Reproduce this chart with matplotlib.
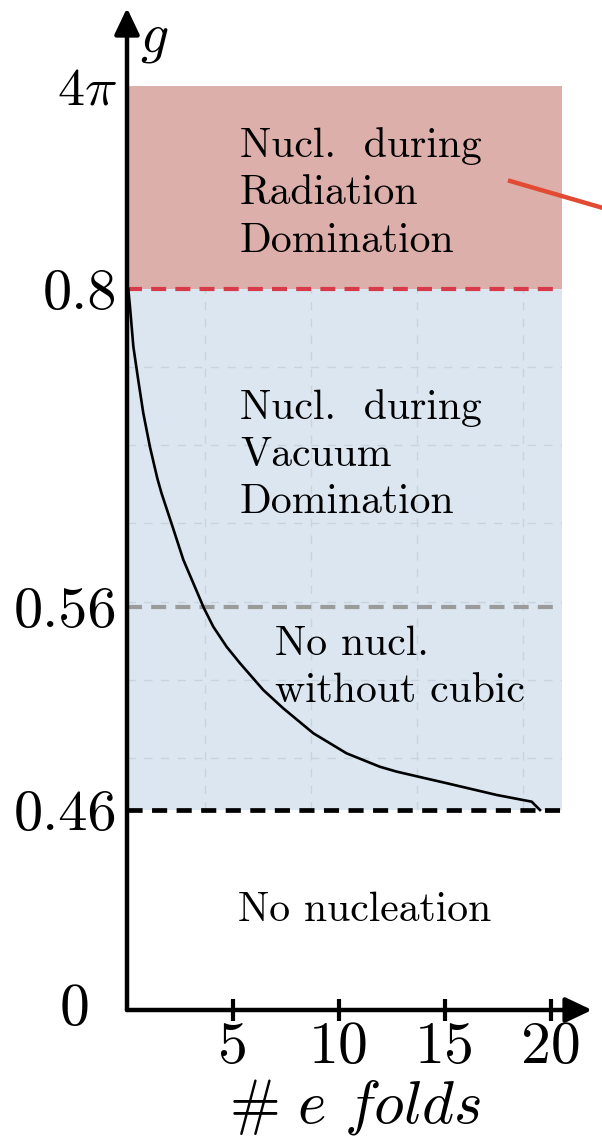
import numpy as np
import matplotlib
matplotlib.use('Agg')
import matplotlib.pyplot as plt

plt.rcParams['font.family'] = ['cmr10', 'DejaVu Serif']
plt.rcParams['mathtext.fontset'] = 'cm'
plt.rcParams['axes.formatter.use_mathtext'] = True

# g levels that split the diagram, and where they sit on the drawn axis
g_levels = [0, 0.46, 0.56, 0.8, 4 * np.pi]
axis_pos = [0, 200, 403, 721, 924]

# curve (e-folds, g)
efolds = [0.06, 0.14, 0.30, 0.53, 0.77, 1.08, 1.43, 1.63, 2.15, 2.66, 3.13,
          3.63, 4.07, 4.70, 5.33, 5.88, 6.43, 7.37, 8.79, 10.36, 11.93, 12.72,
          14.29, 15.08, 17.44, 19.09, 19.48]
g_curve = [0.8, 0.7866, 0.7565, 0.7313, 0.7062, 0.681, 0.6571, 0.6458, 0.6206,
           0.5955, 0.5779, 0.5594, 0.5503, 0.5404, 0.5323, 0.5257, 0.5191,
           0.5101, 0.4978, 0.4879, 0.4813, 0.4789, 0.4751, 0.4732, 0.4674,
           0.4641, 0.46]

xticks = [5, 10, 15, 20]
grid_x = [3.7, 8.7, 13.7, 18.7]
grid_y = [0.10, 0.25, 0.40, 0.55, 0.70, 0.85]

red_fill = '#ddafaa'
blue_fill = '#dbe6f0'


def forward(g):
    return np.interp(g, g_levels, axis_pos)


def inverse(p):
    return np.interp(p, axis_pos, g_levels)


fig = plt.figure(figsize=(6.02, 11.48), dpi=100)
ax = fig.add_axes([127 / 602, 138 / 1148, 434.6 / 602, 924 / 1148])
ax.set_yscale('function', functions=(forward, inverse))
ax.set_xlim(0, 20.5)
ax.set_ylim(0, 4 * np.pi)

ax.axhspan(0.8, 4 * np.pi, color=red_fill, lw=0, zorder=1)
ax.axhspan(0.46, 0.8, color=blue_fill, lw=0, zorder=1)

# faint grid of the embedded panel
y0 = forward(0.46) / 924
y1 = forward(0.8) / 924
bg = ax.inset_axes([0, y0, 1, y1 - y0])
bg.set_zorder(1.5)
bg.patch.set_visible(False)
bg.set_xlim(0, 20.5)
bg.set_ylim(0, 1)
bg.set_xticks(grid_x)
bg.set_yticks(grid_y)
bg.tick_params(length=0, labelbottom=False, labelleft=False)
for s in bg.spines.values():
    s.set_visible(False)
bg.grid(True, color='#c9d3dd', lw=1.0, ls=(0, (6, 6)))

ax.axhline(0.8, color='#d93a4a', lw=3, ls=(0, (3.6, 2.2)), zorder=3)
ax.axhline(0.56, color='#9b9b9b', lw=3, ls=(0, (3.6, 2.2)), zorder=3)
ax.axhline(0.46, color='black', lw=3.4, ls=(0, (3.2, 2.0)), zorder=3)

ax.plot(efolds, g_curve, color='black', lw=1.9, zorder=4)

# red pointer leaving the frame
ax.plot([18.07, 23.0], [7.06, 5.3], color='#e34a33', lw=3.2, clip_on=False, zorder=4)

txt = dict(fontsize=30, linespacing=1.34, va='center', ha='left', zorder=5)
ax.text(5.33, 6.36, 'Nucl.  during\nRadiation\nDomination', **txt)
ax.text(5.33, 0.6747, 'Nucl.  during\nVacuum\nDomination', **txt)
ax.text(6.98, 0.53, 'No nucl.\nwithout cubic', **txt)
ax.text(5.24, 0.23, 'No nucleation', **txt)

# axes drawn as arrows
for s in ax.spines.values():
    s.set_visible(False)
arrow = dict(arrowstyle='-|>,head_length=0.8,head_width=0.38', lw=3.2,
             color='black', shrinkA=0, shrinkB=0, mutation_scale=20)
ax.annotate('', xy=(0, 1.0844), xytext=(0, 0), xycoords='axes fraction',
            arrowprops=arrow, annotation_clip=False)
ax.annotate('', xy=(1.07, 0), xytext=(0, 0), xycoords='axes fraction',
            arrowprops=arrow, annotation_clip=False)

ax.set_xticks(xticks)
ax.set_xticklabels([str(t) for t in xticks])
ax.tick_params(axis='x', direction='inout', length=16, width=3, labelsize=43, pad=0)
ax.set_yticks([0.46, 0.56, 0.8, 4 * np.pi])
ax.set_yticklabels(['0.46', '0.56', '0.8', r'$4\pi\;$'])
ax.tick_params(axis='y', length=0, labelsize=42, pad=7)
ax.get_yticklabels()[-1].set_fontsize(39)
ax.yaxis.set_minor_locator(matplotlib.ticker.NullLocator())
ax.text(-1.75, 0, '0', fontsize=43, ha='right', va='center')

ax.text(0.03, 1.05, r'$g$', transform=ax.transAxes, fontsize=40,
        ha='left', va='center')
ax.set_xlabel(r'$\#\ e\ folds$', fontsize=44)
ax.xaxis.set_label_coords(0.525, -0.073)

fig.savefig('out.png', dpi=100)
